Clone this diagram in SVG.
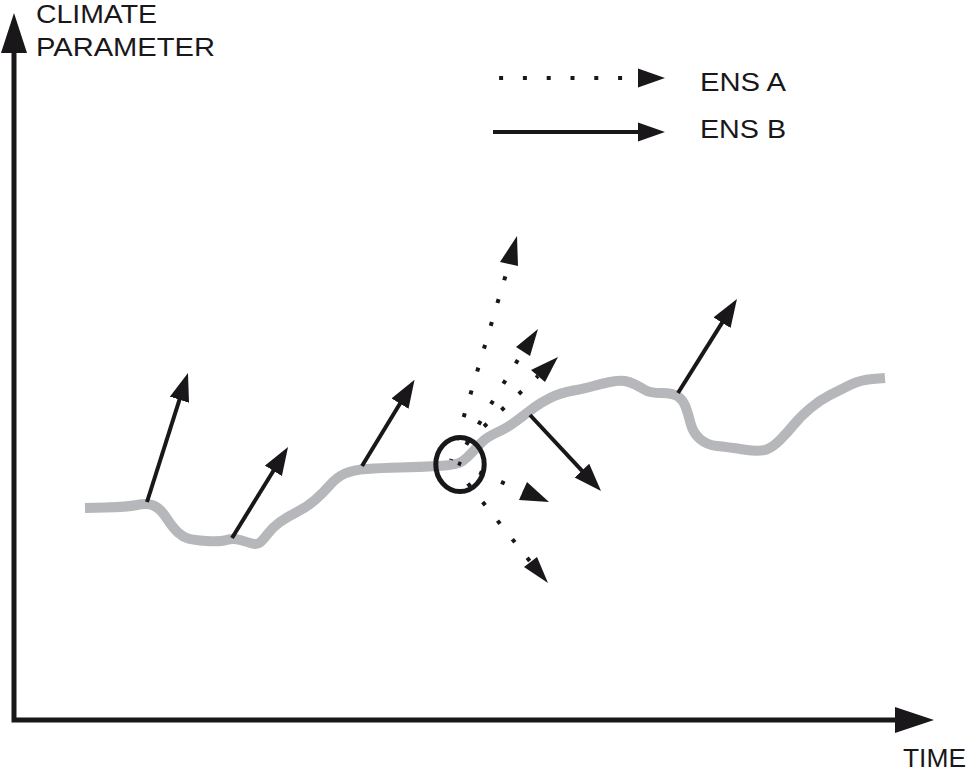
<svg xmlns="http://www.w3.org/2000/svg" width="970" height="772" viewBox="0 0 970 772">
<style>
.lbl{font-family:"Liberation Sans",Arial,sans-serif;font-size:26px;fill:#1a171b}
.ax{stroke:#1a171b;stroke-width:5;fill:none}
.sol{stroke:#1a171b;stroke-width:4;fill:none;marker-end:url(#hd)}
.dot{stroke:#1a171b;stroke-width:4;fill:none;stroke-dasharray:4 19.8}
.hd{fill:#1a171b}
</style>
<defs>
<marker id="hd" markerUnits="userSpaceOnUse" markerWidth="30" markerHeight="22" viewBox="0 0 30 22" refX="1" refY="10" orient="auto">
<path d="M0,0 L28,10 L0,20 z" class="hd"/>
</marker>
</defs>
<rect width="970" height="772" fill="#fff"/>

<g id="axes">
<path class="ax" d="M14,53 L14,720 L895,720" />
<path class="hd" d="M1,53 L14,13 L27,53 z"/>
<path class="hd" d="M895,707 L934,720 L895,733 z"/>
</g>

<g id="labels">
<text class="lbl" x="36" y="23" textLength="121" lengthAdjust="spacingAndGlyphs">CLIMATE</text>
<text class="lbl" x="36" y="56" textLength="179" lengthAdjust="spacingAndGlyphs">PARAMETER</text>
<text class="lbl" x="903" y="767" textLength="63" lengthAdjust="spacingAndGlyphs">TIME</text>
</g>

<g id="legend">
<line class="dot" x1="638" y1="78" x2="494" y2="78" stroke-dashoffset="7.9"/>
<path class="hd" d="M638,68.5 L665,78 L638,87.5 z"/>
<line x1="493" y1="132" x2="639" y2="132" stroke="#1a171b" stroke-width="4"/>
<path class="hd" d="M638,122.5 L665,132 L638,141.5 z"/>
<text class="lbl" x="700" y="91" textLength="86" lengthAdjust="spacingAndGlyphs">ENS A</text>
<text class="lbl" x="700" y="138" textLength="86" lengthAdjust="spacingAndGlyphs">ENS B</text>
</g>

<g id="curve">
<path fill="none" stroke="#b5b7ba" stroke-width="10" stroke-linejoin="round" d="M85,508 L106,507.5 Q127,507 137,505 Q147,503 153.5,505.5 Q160,508 166.5,518 Q173,528 178,532.5 Q183,537 188,538.5 Q193,540 206.5,541 Q220,542 226.5,540 Q233,538 240,540 Q247,542 252,543.5 Q257,545 260,542.5 Q263,540 268,533.5 Q273,527 280,522 Q287,517 297,512 Q307,507 315,500 Q323,493 330,485 Q337,477 345,473.5 Q353,470 366.5,469 Q380,468 400,467.5 Q420,467 438.5,466 Q457,465 462,461.5 Q467,458 472,452.5 Q477,447 482,442 Q487,437 497,432.5 Q507,428 517,420.5 Q527,413 533.5,408 Q540,403 550,398 Q560,393 573.5,390.5 Q587,388 593.5,386 Q600,384 610,382 Q620,380 625,381 Q630,382 635,384.5 Q640,387 645,390 Q650,393 661.5,393 Q673,393 678,396.5 Q683,400 685.5,406.5 Q688,413 690.5,423 Q693,433 700,439 Q707,445 717,446 Q727,447 743.5,449.5 Q760,452 766.5,449.5 Q773,447 780,440 Q787,433 793.5,425 Q800,417 810,408.5 Q820,400 830,395 Q840,390 850,385 Q860,380 872.5,379 L885,378"/>
</g>

<g id="focus">
<ellipse cx="460" cy="464.5" rx="24.2" ry="27" fill="none" stroke="#1a171b" stroke-width="5"/>
</g>

<g id="connectors">
<line class="sol" x1="147" y1="502" x2="179.8" y2="398.7"/>
<line class="sol" x1="232" y1="538" x2="273.9" y2="470"/>
<line class="sol" x1="362" y1="466" x2="400.5" y2="402.8"/>
<line class="sol" x1="678" y1="393" x2="722.6" y2="321.9"/>
<line class="sol" x1="530" y1="415" x2="582.6" y2="471.3"/>

<line class="dot" x1="509" y1="264" x2="451" y2="460" stroke-dashoffset="10.9"/>
<path class="hd" d="M500,262 L517,236 L518,266 z"/>
<line class="dot" x1="523" y1="351.5" x2="460" y2="455" stroke-dashoffset="13.8"/>
<path class="hd" d="M516,347 L538,329 L530,356 z"/>
<line class="dot" x1="538" y1="376" x2="462" y2="447" stroke-dashoffset="1.5"/>
<path class="hd" d="M531,370 L558,357 L545,382 z"/>
<line class="dot" x1="523" y1="491.5" x2="458" y2="463" stroke-dashoffset="3.8"/>
<path class="hd" d="M527,482 L549,502 L519,500 z"/>
<line class="dot" x1="530.5" y1="562" x2="462" y2="476" stroke-dashoffset="22.5"/>
<path class="hd" d="M524,567 L548,583 L537,557 z"/>
</g>
</svg>
